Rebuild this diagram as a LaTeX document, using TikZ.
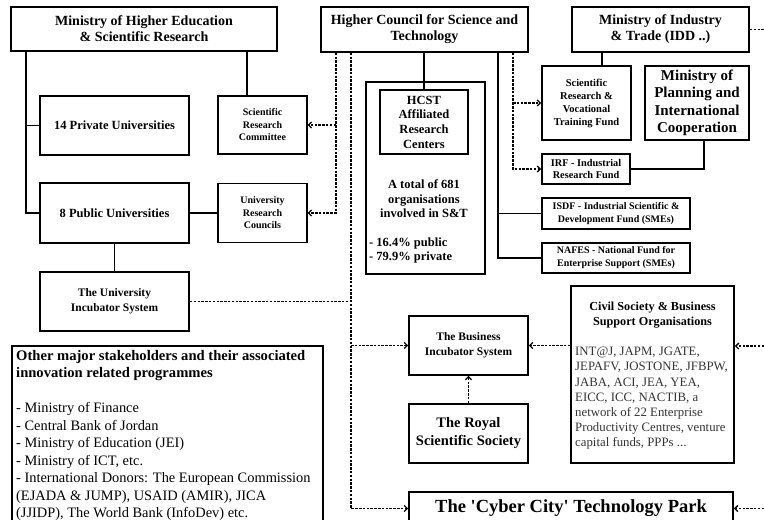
\documentclass[tikz,border=0pt]{standalone}
\usepackage{fontspec}
\setmainfont{Liberation Serif}
\usetikzlibrary{arrows.meta}
\newcommand\myfs[2]{\fontsize{#1bp}{#2bp}\selectfont}
\tikzset{
  wh/.style 2 args={minimum width=#1bp, minimum height=#2bp},
  box/.style={draw, line width=1.8bp, inner sep=0pt, align=center},
  thinbox/.style={draw, line width=1.2bp, inner sep=0pt, align=center},
  solidline/.style={line width=1.8bp},
  dashline/.style={line width=1.3bp, dash pattern=on 2.5bp off 1.3bp},
  arr/.style={dashline, -{Straight Barb[length=3bp,width=6bp]}},
  txt/.style={inner sep=0pt},
}
\begin{document}
\begin{tikzpicture}[x=1bp,y=-1bp]
\useasboundingbox (0,0) rectangle (764,520);
\clip (0,0) rectangle (764,520);

% top row
\node[box, wh={266}{44}, font=\myfs{14}{16}\bfseries] (mhesr) at (144,29) {Ministry of Higher Education\\\& Scientific Research};
\node[box, wh={207}{45}, font=\myfs{14}{16}\bfseries] (hcst) at (424.5,29.5) {Higher Council for Science and\\Technology};
\node[box, wh={177}{45}, font=\myfs{14}{16}\bfseries] (mit) at (660.5,29.5) {Ministry of Industry\\\& Trade (IDD ..)};

% left column
\node[box, wh={149}{59}, font=\myfs{12.5}{14.5}\bfseries] (priv) at (114.5,125.5) {14 Private Universities};
\node[thinbox, wh={89}{58}, font=\myfs{10}{12.5}\bfseries] (src) at (262.5,125) {Scientific\\Research\\Committee};
\node[box, wh={149}{60}, font=\myfs{12.5}{14.5}\bfseries] (pub) at (114.5,213) {8 Public Universities};
\node[thinbox, wh={89}{59}, font=\myfs{10}{12.5}\bfseries] (urc) at (262.5,213) {University\\Research\\Councils};
\node[box, wh={149}{59}, font=\myfs{11.5}{15}\bfseries] (uis) at (114.5,301.5) {The University\\Incubator System};

% other stakeholders
\node[box, wh={311}{182}, anchor=north west] (other) at (11,345) {};
\node[txt, anchor=north west, align=left, font=\myfs{14.6}{17}\bfseries] (othertitle) at (16,350) {Other major stakeholders and their associated\\innovation related programmes};
\node[txt, anchor=north west, align=left, font=\myfs{14.4}{17.5}] (otherbody) at (16,402.5) {- Ministry of Finance\\- Central Bank of Jordan\\- Ministry of Education (JEI)\\- Ministry of ICT, etc.\\- International Donors: The European Commission\\(EJADA \& JUMP), USAID (AMIR), JICA\\(JJIDP), The World Bank (InfoDev) etc.};

% HCST affiliated
\node[box, wh={119}{192}, anchor=north west] (hout) at (365,81) {};
\node[box, wh={88}{64}, font=\myfs{12.5}{14.7}\bfseries] (hin) at (424,122) {HCST\\Affiliated\\Research\\Centers};
\node[txt, align=center, font=\myfs{12.5}{14.5}\bfseries] (tot) at (424,199) {A total of 681\\organisations\\involved in S\&T};
\node[txt, anchor=west, align=left, font=\myfs{12.5}{14.5}\bfseries] (pct) at (369,250.5) {- 16.4\% public\\- 79.9\% private};

% right column
\node[box, wh={89}{74}, font=\myfs{10.5}{13}\bfseries] (srvtf) at (586.5,103) {Scientific\\Research \&\\Vocational\\Training Fund};
\node[box, wh={104}{74}, font=\myfs{15}{17.5}\bfseries] (mpic) at (697,103) {Ministry of\\Planning and\\International\\Cooperation};
\node[box, wh={88}{30}, font=\myfs{10.3}{12.5}\bfseries] (irf) at (586,169) {IRF - Industrial\\Research Fund};
\node[box, wh={148}{31}, font=\myfs{10}{13}\bfseries] (isdf) at (616,213.5) {ISDF - Industrial Scientific \&\\Development Fund (SMEs)};
\node[box, wh={148}{30}, font=\myfs{10}{13}\bfseries] (nafes) at (616,258) {NAFES - National Fund for\\Enterprise Support (SMEs)};

% bottom middle
\node[box, wh={119}{59}, font=\myfs{11.5}{15}\bfseries] (bis) at (468.5,345.5) {The Business\\Incubator System};
\node[box, wh={119}{59}, font=\myfs{14.5}{18}\bfseries] (rss) at (468.5,433.5) {The Royal\\Scientific Society};
\node[box, wh={163}{177}] (civil) at (652.5,374.5) {};
\node[txt, align=center, font=\myfs{12.2}{15}\bfseries] (civiltitle) at (652.5,315.5) {Civil Society \& Business\\Support Organisations};
\node[txt, anchor=north west, align=left, font=\myfs{12.8}{15.2}, text=black!80] (civilbody) at (575,347) {INT@J, JAPM, JGATE,\\JEPAFV, JOSTONE, JFBPW,\\JABA, ACI, JEA, YEA,\\EICC, ICC, NACTIB, a\\network of 22 Enterprise\\Productivity Centres, venture\\capital funds, PPPs ...};
\node[box, wh={324}{33}, font=\myfs{18.5}{20}\bfseries] (cyber) at (571,508.5) {The \textquotesingle Cyber City\textquotesingle\ Technology Park};

% helper coordinates
\coordinate (mL) at (26,0);
\coordinate (sL) at (247,0);
\coordinate (dA) at (336,0);
\coordinate (dB) at (351,0);
\coordinate (hR) at (498,0);
\coordinate (dC) at (513,0);
\coordinate (iL) at (602,0);
\coordinate (pL) at (704,0);
\coordinate (eR) at (764,0);
\coordinate (cArr) at (764,346);

% solid connectors
\draw[solidline] (mhesr.south -| mL) |- (pub.west);
\draw[solidline] (priv.west -| mL) -- (priv.west);
\draw[solidline] (mhesr.south -| sL) -- (src.north -| sL);
\draw[solidline] (pub.east) -- (pub.east -| urc.west);
\draw[solidline] (pub.south) -- (uis.north);
\draw[solidline] (hin.north |- hcst.south) -- (hin.north);
\draw[solidline] (hcst.south -| hR) |- (nafes.west);
\draw[solidline] (isdf.west -| hR) -- (isdf.west);
\draw[solidline] (mit.south -| iL) -- (srvtf.north -| iL);
\draw[solidline] (mpic.south -| pL) |- (irf.east);

% dashed connectors
\draw[arr] (hcst.south -| dA) |- (urc.east);
\draw[arr] (src.east -| dA) -- (src.east);
\draw[arr] (hcst.south -| dB) |- (cyber.west);
\draw[arr] (bis.west -| dB) -- (bis.west);
\draw[dashline] (uis.east) -- (uis.east -| dB);
\draw[arr] (hcst.south -| dC) |- (irf.west);
\draw[arr] (srvtf.west -| dC) -- (srvtf.west);
\draw[arr] (civil.west |- bis.east) -- (bis.east);
\draw[arr] (rss.north) -- (bis.south);
\draw[arr] (cArr) -- (cArr -| civil.east);
\draw[arr] (cyber.east -| eR) -- (cyber.east);
\draw[dashline] (mit.east) -- (mit.east -| eR);
\end{tikzpicture}
\end{document}
